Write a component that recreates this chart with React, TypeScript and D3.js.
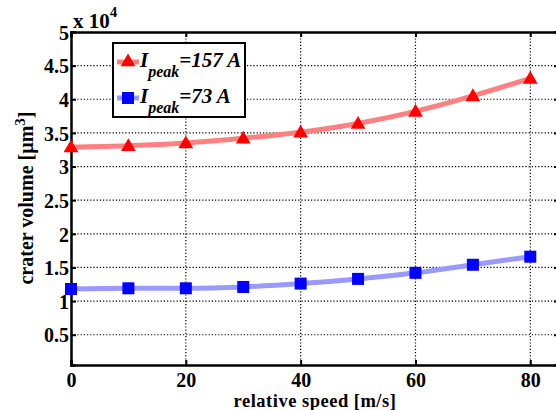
import React, { useEffect, useRef } from 'react'
import * as d3 from 'd3'

// relative speed [m/s]
const speeds = [0, 10, 20, 30, 40, 50, 60, 70, 80]
// crater volume, in units of 1e4 µm^3
const highPeak = [3.29, 3.31, 3.35, 3.42, 3.51, 3.64, 3.82, 4.05, 4.31]
const lowPeak = [1.18, 1.19, 1.19, 1.21, 1.26, 1.33, 1.42, 1.54, 1.66]
const xTicks = [0, 20, 40, 60, 80]
const yTicks = [0.5, 1, 1.5, 2, 2.5, 3, 3.5, 4, 4.5, 5]

const App = () => {
  const ref = useRef<SVGSVGElement>(null)

  useEffect(() => {
    const svg = d3.select(ref.current)
    svg.selectAll('*').remove()

    const left = 71
    const top = 32
    const bottom = 365
    const font = '"Liberation Serif", "Times New Roman", serif'

    const x = d3.scaleLinear().domain([0, 85]).range([left, 559])
    // y starts a little above 0, so no "0" label shows
    const y = d3.scaleLinear().domain([0.05, 5]).range([bottom, top])
    const right = x(85)

    // grid
    const grid = svg.append('g')
    grid
      .selectAll('line.gx')
      .data(xTicks.filter((d) => d > 0))
      .enter()
      .append('line')
      .attr('x1', (d) => x(d))
      .attr('x2', (d) => x(d))
      .attr('y1', top)
      .attr('y2', bottom)
      .attr('stroke', '#000')
      .attr('stroke-width', 1.2)
      .attr('stroke-dasharray', '1.2,2')
    grid
      .selectAll('line.gy')
      .data(yTicks.filter((d) => d < 5))
      .enter()
      .append('line')
      .attr('x1', left)
      .attr('x2', right)
      .attr('y1', (d) => y(d))
      .attr('y2', (d) => y(d))
      .attr('stroke', '#000')
      .attr('stroke-width', 1.2)
      .attr('stroke-dasharray', '1.2,2')

    // axes (ticks inward, box)
    const fmt = d3.format('~g')
    const xAxis = d3.axisBottom(x).tickValues(xTicks).tickSize(-5).tickPadding(8).tickFormat(fmt)
    const gx = svg.append('g').attr('transform', `translate(0,${bottom})`).call(xAxis)
    const xTop = d3.axisTop(x).tickValues(xTicks).tickSize(-5).tickFormat(() => '')
    const gxt = svg.append('g').attr('transform', `translate(0,${top})`).call(xTop)
    const yAxis = d3.axisLeft(y).tickValues(yTicks).tickSize(-5).tickPadding(2).tickFormat(fmt)
    const gy = svg.append('g').attr('transform', `translate(${left},0)`).call(yAxis)
    const yRight = d3.axisRight(y).tickValues(yTicks).tickSize(-5).tickFormat(() => '')
    const gyr = svg.append('g').attr('transform', `translate(${right},0)`).call(yRight)
    ;[gx, gxt, gy, gyr].forEach((g) => {
      g.attr('font-family', font)
      g.select('.domain').attr('stroke', '#000').attr('stroke-width', 2.5)
      g.selectAll('.tick line').attr('stroke', '#000').attr('stroke-width', 2)
      g.selectAll('.tick text')
        .attr('fill', '#000')
        .style('font-family', font)
        .style('font-weight', 'bold')
        .style('font-size', '20px')
    })
    gy.selectAll('.tick text').attr('dy', '0.36em')

    // series
    const line = d3
      .line<number>()
      .x((d, i) => x(speeds[i]))
      .y((d) => y(d))
      .curve(d3.curveMonotoneX)

    svg
      .append('path')
      .datum(highPeak)
      .attr('d', line)
      .attr('fill', 'none')
      .attr('stroke', '#ff8080')
      .attr('stroke-width', 5)
    svg
      .append('path')
      .datum(lowPeak)
      .attr('d', line)
      .attr('fill', 'none')
      .attr('stroke', '#9999ff')
      .attr('stroke-width', 5)

    const tri = d3.symbol().type(d3.symbolTriangle).size(95)
    svg
      .selectAll('path.tri')
      .data(highPeak)
      .enter()
      .append('path')
      .attr('d', tri)
      .attr('transform', (d, i) => `translate(${x(speeds[i])},${y(d) + 1})`)
      .attr('fill', '#ff0000')
    svg
      .selectAll('rect.sq')
      .data(lowPeak)
      .enter()
      .append('rect')
      .attr('x', (d, i) => x(speeds[i]) - 6)
      .attr('y', (d) => y(d) - 6)
      .attr('width', 12)
      .attr('height', 12)
      .attr('fill', '#0000ff')

    // exponent
    const ex = svg
      .append('text')
      .attr('x', 73)
      .attr('y', 28)
      .style('font-family', font)
      .style('font-weight', 'bold')
      .style('font-size', '21px')
    ex.append('tspan').text('x 10')
    ex.append('tspan').attr('dy', -11).style('font-size', '15px').text('4')

    // axis labels
    svg
      .append('text')
      .attr('x', 315)
      .attr('y', 407)
      .attr('text-anchor', 'middle')
      .style('font-family', font)
      .style('font-weight', 'bold')
      .style('font-size', '18.5px')
      .style('letter-spacing', '0.5px')
      .text('relative speed [m/s]')

    const yl = svg
      .append('text')
      .attr('transform', 'translate(33,198) rotate(-90)')
      .attr('text-anchor', 'middle')
      .style('font-family', font)
      .style('font-weight', 'bold')
      .style('font-size', '20px')
    yl.append('tspan').text('crater volume [µm')
    yl.append('tspan').attr('dy', -8).style('font-size', '15px').text('3')
    yl.append('tspan').attr('dy', 8).text(']')

    // legend
    const lg = svg.append('g')
    lg.append('rect')
      .attr('x', 113)
      .attr('y', 43)
      .attr('width', 132)
      .attr('height', 74)
      .attr('fill', '#fff')
      .attr('stroke', '#000')
      .attr('stroke-width', 2)
    const entries = [
      { label: '=157 A', color: '#ff8080', mark: '#ff0000', kind: 'tri', yy: 62 },
      { label: '=73 A', color: '#9999ff', mark: '#0000ff', kind: 'sq', yy: 98 }
    ]
    entries.forEach((e) => {
      lg.append('line')
        .attr('x1', 117)
        .attr('x2', 139)
        .attr('y1', e.yy)
        .attr('y2', e.yy)
        .attr('stroke', e.color)
        .attr('stroke-width', 5)
      if (e.kind === 'tri') {
        lg.append('path')
          .attr('d', tri)
          .attr('transform', `translate(128,${e.yy})`)
          .attr('fill', e.mark)
      } else {
        lg.append('rect')
          .attr('x', 122)
          .attr('y', e.yy - 6)
          .attr('width', 12)
          .attr('height', 12)
          .attr('fill', e.mark)
      }
      const t = lg
        .append('text')
        .attr('x', 140)
        .attr('y', e.yy + 5)
        .style('font-family', font)
        .style('font-weight', 'bold')
        .style('font-style', 'italic')
        .style('font-size', '21px')
      t.append('tspan').text('I')
      t.append('tspan').attr('dy', 10).style('font-size', '16px').text('peak')
      t.append('tspan').attr('dy', -10).text(e.label)
    })
  }, [])

  return (
    <svg ref={ref} width={556} height={410} style={{ position: 'absolute', left: 0, top: 0, background: '#fff' }} />
  )
}

export default App
